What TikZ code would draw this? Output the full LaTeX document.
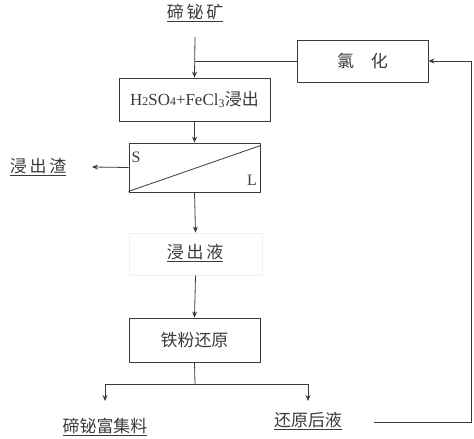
\documentclass[tikz,border=0pt]{standalone}
\usepackage{fontspec}
\setmainfont{Liberation Serif}
\newfontfamily\cjk{Noto Sans CJK SC}
\usetikzlibrary{arrows.meta}
\definecolor{ink}{HTML}{3A3A3A}
\tikzset{
  box/.style={draw=ink, line width=0.8pt, minimum width=131bp, minimum height=43bp, inner sep=0pt, text=ink, font=\fontsize{17}{20}\selectfont},
  faintbox/.style={box, draw=black!6},
  lbl/.style={inner sep=0pt, text=ink, font=\fontsize{17}{20}\selectfont},
  conn/.style={draw=ink, line width=0.8pt},
  arr/.style={conn, -{Stealth[length=6bp,width=5bp]}}
}
\begin{document}
\begin{tikzpicture}[x=1bp,y=-1bp]
\useasboundingbox (0,0) rectangle (474,439);
% nodes
\node[lbl] (ore) at (195,13) {\cjk\underline{碲\,铋\,矿}};
\node[box, minimum width=131bp, minimum height=42bp] (chl) at (362.5,61) {\cjk 氯\quad 化};
\node[box, minimum width=151bp, minimum height=43bp] (leach) at (194.5,99.5) {H{\fontsize{12}{12}\selectfont 2}SO{\fontsize{12}{12}\selectfont 4}+FeCl\textsubscript{3}{\cjk 浸出}};
\node[box, minimum width=131bp, minimum height=49bp] (sep) at (194.5,167.5) {};
\node[lbl, font=\fontsize{16}{18}\selectfont] (S) at (136,157) {S};
\node[lbl, font=\fontsize{16}{18}\selectfont] (L) at (252,180) {L};
\node[lbl] (slag) at (38,167) {\cjk\underline{浸\,出\,渣}};
\node[faintbox, minimum width=133bp, minimum height=42bp] (liq) at (195.5,254) {};
\node[lbl] (liqt) at (195,253) {\cjk\underline{浸\,出\,液}};
\node[box, minimum width=131bp, minimum height=44bp] (red) at (194.5,340) {\cjk 铁粉还原};
\node[lbl] (conc) at (105,427) {\cjk\underline{碲铋富集料}};
\node[lbl] (after) at (308,421) {\cjk\underline{还原后液}};
% helper coordinates
\coordinate (orein) at (195,37);
\coordinate (join) at (195,61);
\coordinate (slagin) at (92,167);
\coordinate (split) at (195,384);
\coordinate (toconc) at (105,401);
\coordinate (toafter) at (308,401);
\coordinate (afterout) at (374,422);
\coordinate (corner1) at (471,422);
\coordinate (corner2) at (471,61);
% connectors
\draw[conn] ([yshift=1bp]sep.south west) -- ([yshift=-3bp]sep.north east);
\draw[arr] (orein) -- (leach.north);
\draw[conn] (chl.west) -- (join);
\draw[arr] (leach.south) -- (sep.north);
\draw[arr] (sep.west) -- (slagin);
\draw[arr] (sep.south) -- (liq.north);
\draw[arr] (liq.south) -- (red.north);
\draw[conn] (red.south) -- (split);
\draw[arr] (split) -| (toconc);
\draw[arr] (split) -| (toafter);
\draw[arr] (afterout) -- (corner1) -- (corner2) -- (chl.east);
\end{tikzpicture}
\end{document}
